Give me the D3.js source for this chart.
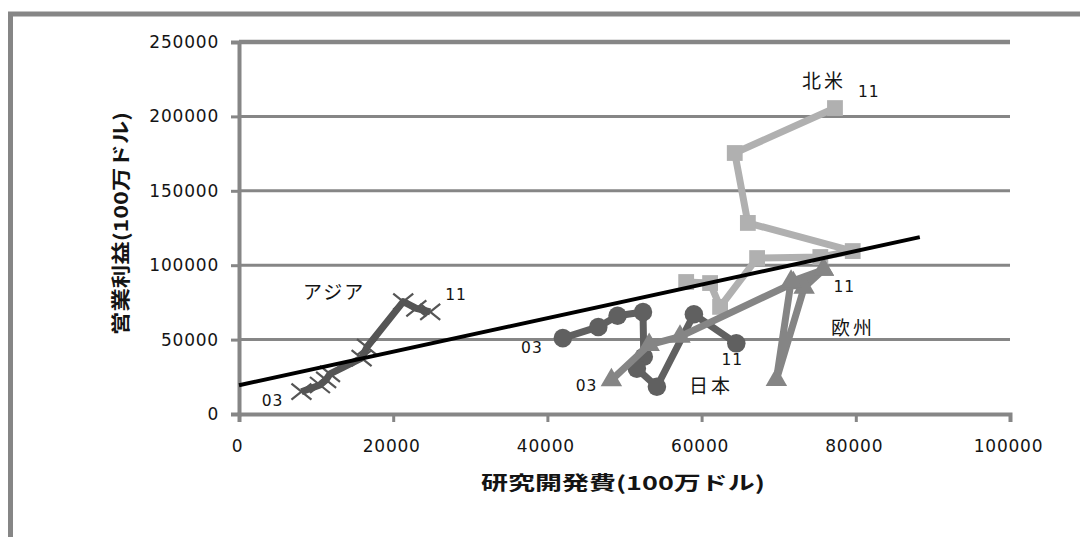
<!DOCTYPE html>
<html lang="ja">
<head>
<meta charset="utf-8">
<script src="https://cdn.jsdelivr.net/npm/d3@7"></script>
<style>
  html, body { margin: 0; padding: 0; background: #fff; }
  svg { display: block; }
</style>
</head>
<body>
<svg id="chart" width="1080" height="537"></svg>
<script>
// 年度 2003〜2011 の研究開発費(x)と営業利益(y)、単位は100万ドル
const years = ["03", "04", "05", "06", "07", "08", "09", "10", "11"];

const asiaRD     = [8100, 10500, 11300, 11800, 15900, 16600, 21300, 23000, 24800];
const asiaProfit = [15000, 19500, 23000, 27000, 37500, 45000, 75500, 71000, 68700];

const japanRD     = [42000, 46600, 49100, 52400, 52500, 51600, 54200, 59000, 64500];
const japanProfit = [51000, 58500, 66000, 68500, 38500, 30500, 18300, 67000, 47500];

const europeRD     = [48300, 53200, 57200, 71900, 75800, 73300, 69700, 71600, 75800];
const europeProfit = [22800, 46500, 52000, 88000, 97000, 85000, 23000, 89000, 97000];

const naRD     = [58000, 61100, 62400, 67200, 75400, 79600, 66000, 64300, 77300];
const naProfit = [88700, 88000, 72000, 104800, 105500, 109500, 128400, 175400, 205600];

// 全体の線形近似 y = a + b·x
const trendIntercept = 19350;
const trendSlope = 1.127;
const trendRange = [0, 88300];

const xTicks = [0, 20000, 40000, 60000, 80000, 100000];
const yTicks = [0, 50000, 100000, 150000, 200000, 250000];

const xTitle = "研究開発費(100万ドル)";
const yTitle = "営業利益(100万ドル)";

const svg = d3.select("#chart");
const grey = "#868686";
const txt = "#141414";

// 外枠
svg.append("rect")
  .attr("x", 10.5).attr("y", 14)
  .attr("width", 1100).attr("height", 560)
  .attr("fill", "#fff")
  .attr("stroke", grey).attr("stroke-width", 5);

const x = d3.scaleLinear().domain([0, 100000]).range([239, 1010]);
const y = d3.scaleLinear().domain([0, 250000]).range([414, 42]);

// 水平グリッド線
svg.append("g").selectAll("line")
  .data(yTicks.filter(v => v > 0))
  .join("line")
  .attr("x1", x(0)).attr("x2", x(100000))
  .attr("y1", d => y(d)).attr("y2", d => y(d))
  .attr("stroke", grey)
  .attr("stroke-width", d => d === 250000 ? 4.5 : 3);

// 軸
const fmt = d3.format("d");
const yAxis = svg.append("g")
  .attr("transform", `translate(${x(0)},0)`)
  .call(d3.axisLeft(y).tickValues(yTicks).tickFormat(fmt).tickSizeOuter(0).tickSize(8).tickPadding(14));
const xAxis = svg.append("g")
  .attr("transform", `translate(0,${y(0)})`)
  .call(d3.axisBottom(x).tickValues(xTicks).tickFormat(fmt).tickSizeOuter(0).tickSize(8).tickPadding(18));

[yAxis, xAxis].forEach(g => {
  g.select(".domain").attr("stroke", grey).attr("stroke-width", 4);
  g.selectAll(".tick line").attr("stroke", grey).attr("stroke-width", 3);
  g.selectAll(".tick text")
    .attr("fill", txt)
    .attr("font-family", "DejaVu Sans, sans-serif")
    .attr("font-size", 17)
    .attr("letter-spacing", 0.8);
});
xAxis.selectAll(".tick text").attr("dx", -2);
yAxis.selectAll(".tick text").attr("dx", 2);

// 系列
function seriesData(xs, ys) {
  return xs.map((v, i) => ({ x: v, y: ys[i], year: years[i] }));
}
const line = d3.line().x(d => x(d.x)).y(d => y(d.y));

const series = [
  { key: "japan",  data: seriesData(japanRD, japanProfit),   color: "#606060", shape: "circle" },
  { key: "na",     data: seriesData(naRD, naProfit),         color: "#b0b0b0", shape: "square" },
  { key: "europe", data: seriesData(europeRD, europeProfit), color: "#858585", shape: "triangle" },
  { key: "asia",   data: seriesData(asiaRD, asiaProfit),     color: "#555555", shape: "x" }
];

const symbolType = {
  circle: d3.symbolCircle,
  square: d3.symbolSquare,
  triangle: d3.symbolTriangle
};
const symbolSize = { circle: 270, square: 250, triangle: 200 };

series.forEach(s => {
  const g = svg.append("g").attr("class", s.key);
  g.append("path")
    .datum(s.data)
    .attr("d", line)
    .attr("fill", "none")
    .attr("stroke", s.color)
    .attr("stroke-width", 7)
    .attr("stroke-linejoin", "round");

  if (s.shape === "x") {
    g.selectAll("path.mark")
      .data(s.data)
      .join("path")
      .attr("class", "mark")
      .attr("transform", d => `translate(${x(d.x)},${y(d.y)})`)
      .attr("d", "M-10,-8L10,8M-10,8L10,-8")
      .attr("stroke", s.color)
      .attr("stroke-width", 2.2)
      .attr("fill", "none");
  } else {
    g.selectAll("path.mark")
      .data(s.data)
      .join("path")
      .attr("class", "mark")
      .attr("transform", d => `translate(${x(d.x)},${y(d.y)})`)
      .attr("d", d3.symbol().type(symbolType[s.shape]).size(symbolSize[s.shape]))
      .attr("fill", s.color);
  }
});

// 近似直線
svg.append("line")
  .attr("x1", x(trendRange[0]))
  .attr("y1", y(trendIntercept + trendSlope * trendRange[0]))
  .attr("x2", x(trendRange[1]))
  .attr("y2", y(trendIntercept + trendSlope * trendRange[1]))
  .attr("stroke", "#000")
  .attr("stroke-width", 4);

// 年度ラベルと地域名
const numFont = "DejaVu Sans, sans-serif";
const jpFont = "'Noto Sans CJK JP', sans-serif";
function label(text, px, py, anchor, font, size, spacing) {
  svg.append("text")
    .attr("x", px).attr("y", py)
    .attr("text-anchor", anchor)
    .attr("font-family", font)
    .attr("font-size", size)
    .attr("letter-spacing", spacing)
    .attr("fill", txt)
    .text(text);
}
const first = s => s.data[0];
const last = s => s.data[s.data.length - 1];
const [japan, na, europe, asia] = series;

label(first(asia).year, x(first(asia).x) - 18, y(first(asia).y) + 14, "end", numFont, 15.5, 1);
label(last(asia).year, x(last(asia).x) + 15, y(last(asia).y) - 12, "start", numFont, 15.5, 1);
label(first(japan).year, x(first(japan).x) - 20, y(first(japan).y) + 15, "end", numFont, 15.5, 1);
label(last(japan).year, x(last(japan).x) - 4, y(last(japan).y) + 22, "middle", numFont, 15.5, 1);
label(first(europe).year, x(first(europe).x) - 14, y(first(europe).y) + 11, "end", numFont, 15.5, 1);
label(last(europe).year, x(last(europe).x) + 10, y(last(europe).y) + 22, "start", numFont, 15.5, 1);
label(last(na).year, x(last(na).x) + 23, y(last(na).y) - 11, "start", numFont, 15.5, 1);

label("アジア", 303, 299, "start", jpFont, 19, 2);
label("日本", 689, 393, "start", jpFont, 19, 3);
label("北米", 802, 88, "start", jpFont, 19, 3);
label("欧州", 831, 335, "start", jpFont, 19, 3);

// 軸タイトル
svg.append("text")
  .attr("x", 481).attr("y", 490)
  .attr("textLength", 284).attr("lengthAdjust", "spacingAndGlyphs")
  .attr("font-family", jpFont)
  .attr("font-weight", "bold")
  .attr("font-size", 19)
  .attr("fill", txt)
  .text(xTitle);

svg.append("text")
  .attr("transform", "translate(128,335) rotate(-90)")
  .attr("x", 0).attr("y", 0)
  .attr("textLength", 223).attr("lengthAdjust", "spacingAndGlyphs")
  .attr("font-family", jpFont)
  .attr("font-weight", "bold")
  .attr("font-size", 19)
  .attr("fill", txt)
  .text(yTitle);
</script>
</body>
</html>
